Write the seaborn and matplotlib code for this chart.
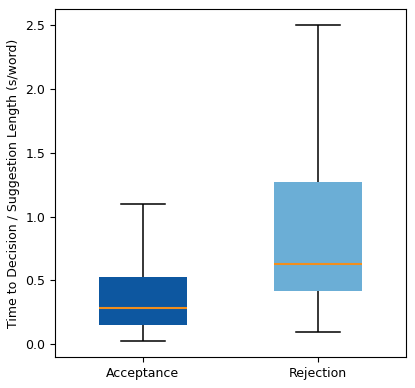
import numpy as np
import pandas as pd
import matplotlib
matplotlib.use("Agg")
import matplotlib.pyplot as plt
import seaborn as sns

#-----------------------------------------
# datos (min, Q1, mediana, Q3, max)
#-----------------------------------------
categories = ["Acceptance", "Rejection"]
acceptance = [0.026, 0.151, 0.284, 0.529, 1.099]
rejection = [0.096, 0.416, 0.627, 1.268, 2.50]
box_colors = ["#0d57a0", "#6baed6"]

df = pd.DataFrame({
    "outcome": [categories[0]] * len(acceptance) + [categories[1]] * len(rejection),
    "value": acceptance + rejection,
})

plt.rcParams["font.size"] = 9

fig = plt.figure(figsize=(4.15, 3.88), dpi=100)
ax = fig.add_axes([0.1325, 0.080, 0.8455, 0.897])

sns.boxplot(data=df, x="outcome", y="value", hue="outcome", order=categories,
            palette=box_colors, saturation=1, width=0.5, whis=(0, 100),
            linecolor="black", linewidth=1.1, legend=False, ax=ax,
            boxprops=dict(edgecolor="none"),
            medianprops=dict(color="#f28e1c", linewidth=1.5))

ax.set_xlim(-0.5, 1.5)
ax.set_ylim(-0.098, 2.624)
ax.set_yticks([0.0, 0.5, 1.0, 1.5, 2.0, 2.5])
ax.set_xlabel("")
ax.set_ylabel("Time to Decision / Suggestion Length (s/word)")

fig.savefig("out.png", dpi=100)
